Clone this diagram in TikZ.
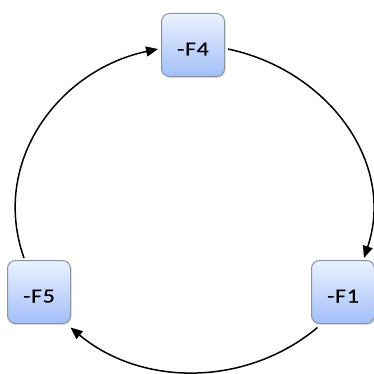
\documentclass[tikz,border=0pt]{standalone}
\usepackage{fontspec}
\setmainfont{Carlito}
\usetikzlibrary{shadows,arrows.meta}
\definecolor{boxtop}{HTML}{EBF1FF}
\definecolor{boxbot}{HTML}{A3BFF9}
\definecolor{boxline}{HTML}{8A94A0}
\tikzset{
  fbox/.style={rounded corners=8pt, draw=boxline, line width=1pt,
    top color=boxtop, bottom color=boxbot,
    minimum width=63pt, minimum height=63pt, inner sep=0pt,
    text height=21pt, text depth=0pt,
    font=\fontsize{20}{24}\selectfont\addfontfeatures{FakeStretch=1.2,LetterSpace=3,FakeBold=0.4},
    drop shadow={opacity=0.25, shadow xshift=1.2pt, shadow yshift=-1.5pt}},
  link/.style={line width=1.5pt, -{Triangle[length=12pt,width=10pt]}}
}
\begin{document}
\begin{tikzpicture}[x=1pt,y=1pt]
  \useasboundingbox (0,0) rectangle (374,373);
  \node[fbox] (F4) at (193,328) {-F4};
  \node[fbox] (F1) at (343,81) {-F1};
  \node[fbox] (F5) at (39,81) {-F5};
  % end points of the three arcs on the box borders
  \coordinate (r0) at ([xshift=3pt,yshift=-4pt]F4.east);
  \coordinate (r1) at ([xshift=21pt,yshift=2pt]F1.north);
  \coordinate (b0) at ([xshift=6.5pt,yshift=-3.5pt]F1.south west);
  \coordinate (b1) at ([xshift=-0.5pt,yshift=-3.5pt]F5.south east);
  \coordinate (l0) at ([xshift=-15pt,yshift=2pt]F5.north);
  \coordinate (l1) at ([xshift=-3pt,yshift=-4pt]F4.west);
  % near-circular arcs, clockwise F4 -> F1 -> F5 -> F4
  \draw[link] (r0) .. controls (327.5,302.9) and (395.9,210.9) .. (r1);
  \draw[link] (b0) .. controls (246.3,-14) and (141.7,-14) .. (b1);
  \draw[link] (l0) .. controls (-9.9,210.9) and (58.5,302.9) .. (l1);
\end{tikzpicture}
\end{document}
